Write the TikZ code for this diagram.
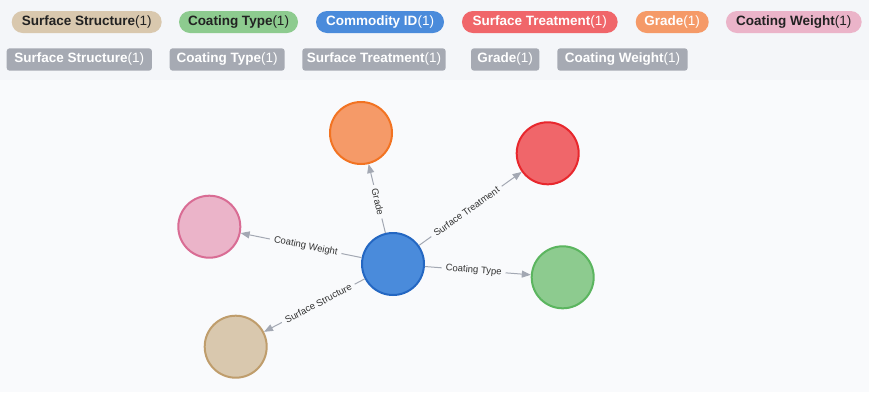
\documentclass[tikz,border=0pt]{standalone}
\usepackage{fontspec}
\setmainfont{Liberation Sans}
\usetikzlibrary{arrows.meta}

\definecolor{canvas}{HTML}{F9FAFC}
\definecolor{legendbg}{HTML}{F4F6F9}
\definecolor{edgegray}{HTML}{A3A8B3}
\definecolor{labelgray}{HTML}{333333}
\definecolor{chipgray}{HTML}{A6AAB3}
\definecolor{inkdark}{HTML}{222222}

\definecolor{tanfill}{HTML}{D9C8AE}   \definecolor{tanline}{HTML}{BF9D6C}
\definecolor{greenfill}{HTML}{8DCB8F} \definecolor{greenline}{HTML}{5BB55F}
\definecolor{bluefill}{HTML}{4A8BDB}  \definecolor{blueline}{HTML}{2467C2}
\definecolor{redfill}{HTML}{F0666A}   \definecolor{redline}{HTML}{E8272D}
\definecolor{orfill}{HTML}{F59A68}    \definecolor{orline}{HTML}{F27322}
\definecolor{pinkfill}{HTML}{EBB4C9}  \definecolor{pinkline}{HTML}{D96C94}

\tikzset{
  pill/.style={rounded corners=11pt, minimum height=22pt, inner sep=0pt,
    font=\fontsize{13.5}{15}\selectfont},
  chip/.style={fill=chipgray, rounded corners=3pt, minimum height=22.4pt,
    inner sep=0pt, text=white, font=\fontsize{13.5}{15}\selectfont},
  entity/.style={circle, minimum size=62pt, line width=2pt, inner sep=0pt},
  link/.style={draw=edgegray, line width=1pt,
    -{Triangle[length=9pt,width=7pt]}},
  linklabel/.style={sloped, fill=canvas, text=labelgray, inner xsep=4pt,
    inner ysep=1.5pt, font=\fontsize{9.5}{11}\selectfont},
}

\newcommand{\tagtext}[1]{\textbf{#1}(1)}

\begin{document}
\begin{tikzpicture}[x=1pt,y=-1pt]
  % canvas and legend strip
  \fill[canvas] (0,0) rectangle (869,392);
  \fill[legendbg] (0,0) rectangle (869,80);
  \useasboundingbox (0,0) rectangle (869,392);

  % category pills
  \node[pill, fill=tanfill, text=inkdark, minimum width=150pt] (pSS) at (86.7,22) {\tagtext{Surface Structure}};
  \node[pill, fill=greenfill, text=inkdark, minimum width=119pt] (pCT) at (238.5,22) {\tagtext{Coating Type}};
  \node[pill, fill=bluefill, text=white, minimum width=128pt] (pCI) at (380,22) {\tagtext{Commodity ID}};
  \node[pill, fill=redfill, text=white, minimum width=155.7pt] (pST) at (539.8,22) {\tagtext{Surface Treatment}};
  \node[pill, fill=orfill, text=white, minimum width=73pt] (pGR) at (672.2,22) {\tagtext{Grade}};
  \node[pill, fill=pinkfill, text=inkdark, minimum width=135.7pt] (pCW) at (793.8,22) {\tagtext{Coating Weight}};

  % relation chips
  \node[chip, minimum width=145.3pt] (cSS) at (79.3,59.5) {\tagtext{Surface Structure}};
  \node[chip, minimum width=115pt] (cCT) at (227.2,59.5) {\tagtext{Coating Type}};
  \node[chip, minimum width=143.4pt] (cST) at (374,59.5) {\tagtext{Surface Treatment}};
  \node[chip, minimum width=68.3pt] (cGR) at (505.2,59.5) {\tagtext{Grade}};
  \node[chip, minimum width=130.4pt] (cCW) at (622.5,59.5) {\tagtext{Coating Weight}};

  % graph nodes
  \node[entity, fill=bluefill, draw=blueline] (hub) at (393,264) {};
  \node[entity, fill=orfill, draw=orline] (grade) at (361,133) {};
  \node[entity, fill=redfill, draw=redline] (treat) at (547.7,153.3) {};
  \node[entity, fill=pinkfill, draw=pinkline] (weight) at (209.3,226.7) {};
  \node[entity, fill=greenfill, draw=greenline] (ctype) at (562.7,277.3) {};
  \node[entity, fill=tanfill, draw=tanline] (struct) at (235.7,346.7) {};

  % relations
  \foreach \target/\name in {grade/Grade, treat/Surface Treatment,
      weight/Coating Weight, ctype/Coating Type, struct/Surface Structure}{
    \draw[link] (hub) -- (\target);
    \path (hub.center) -- (\target.center) node[linklabel, pos=0.475] {\name};
  }
\end{tikzpicture}
\end{document}
